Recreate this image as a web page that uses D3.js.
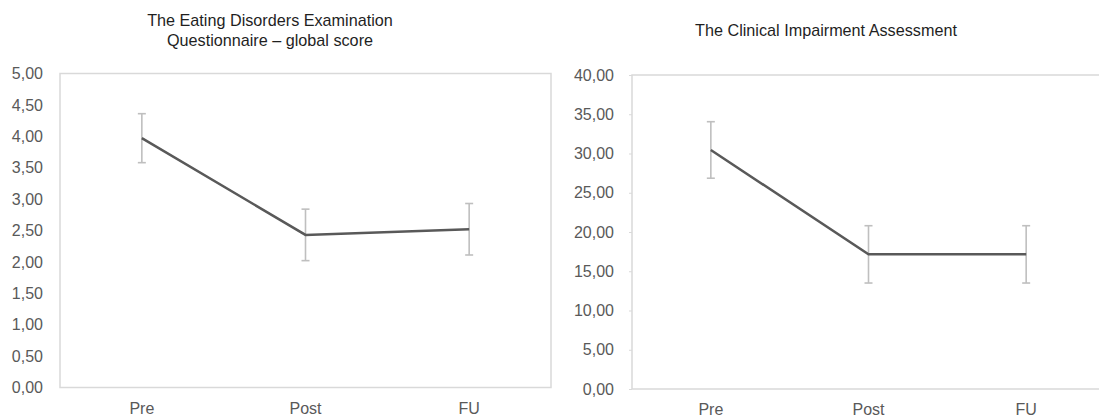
<!DOCTYPE html>
<html>
<head>
<meta charset="utf-8">
<script src="https://cdn.jsdelivr.net/npm/d3@7"></script>
<style>
  html, body { margin: 0; padding: 0; background: #fff; }
  svg { display: block; }
  text { font-family: "Liberation Sans", Arial, sans-serif; }
</style>
</head>
<body>
<svg id="chart" width="1099" height="418"></svg>
<script>
// Measurement occasions
const occasions = ["Pre", "Post", "FU"];

// EDE-Q global score: means and error half-widths
const edeqMeans = [3.97, 2.43, 2.52];
const edeqErrors = [0.39, 0.41, 0.41];
const edeqTicks = [0, 0.5, 1, 1.5, 2, 2.5, 3, 3.5, 4, 4.5, 5];

// Clinical Impairment Assessment: means and error half-widths
const ciaMeans = [30.45, 17.15, 17.15];
const ciaErrors = [3.6, 3.65, 3.65];
const ciaTicks = [0, 5, 10, 15, 20, 25, 30, 35, 40];

const svg = d3.select("#chart");
const fmt = v => d3.format(".2f")(v).replace(".", ",");

function panel(cfg) {
  const g = svg.append("g");
  const x = d3.scalePoint().domain(occasions).range([cfg.left, cfg.right]).padding(0.5);
  const y = d3.scaleLinear().domain([0, cfg.max]).range([cfg.bottom, cfg.top]);

  // plot frame
  g.append("rect")
    .attr("x", cfg.left).attr("y", cfg.top)
    .attr("width", cfg.frameRight - cfg.left).attr("height", cfg.bottom - cfg.top)
    .attr("fill", "none").attr("stroke", "#d9d9d9").attr("stroke-width", 1.5);

  // y axis labels
  const ya = g.append("g").attr("transform", `translate(${cfg.left},0)`)
    .call(d3.axisLeft(y).tickValues(cfg.ticks).tickFormat(fmt)
      .tickSize(cfg.tickMarks ? 3 : 0).tickPadding(cfg.labelPad));
  ya.select(".domain").remove();
  ya.selectAll(".tick line").attr("stroke", "#d9d9d9");
  ya.selectAll(".tick text").attr("fill", "#595959").attr("font-size", 16);

  // x axis labels
  g.selectAll("text.xlab").data(occasions).join("text")
    .attr("class", "xlab")
    .attr("x", d => x(d)).attr("y", cfg.bottom + 26)
    .attr("text-anchor", "middle").attr("fill", "#595959").attr("font-size", 16)
    .text(d => d);

  const pts = occasions.map((d, i) => ({ c: d, m: cfg.means[i], e: cfg.errors[i] }));

  // error bars
  const eb = g.selectAll("g.err").data(pts).join("g").attr("class", "err")
    .attr("stroke", "#bfbfbf").attr("stroke-width", 1.6);
  eb.append("line")
    .attr("x1", d => x(d.c)).attr("x2", d => x(d.c))
    .attr("y1", d => y(d.m - d.e)).attr("y2", d => y(d.m + d.e));
  eb.append("line")
    .attr("x1", d => x(d.c) - 4).attr("x2", d => x(d.c) + 4)
    .attr("y1", d => y(d.m + d.e)).attr("y2", d => y(d.m + d.e));
  eb.append("line")
    .attr("x1", d => x(d.c) - 4).attr("x2", d => x(d.c) + 4)
    .attr("y1", d => y(d.m - d.e)).attr("y2", d => y(d.m - d.e));

  // mean line
  g.append("path").datum(pts)
    .attr("fill", "none").attr("stroke", "#595959").attr("stroke-width", 2.5)
    .attr("d", d3.line().x(d => x(d.c)).y(d => y(d.m)));

  // title
  const t = g.append("text").attr("text-anchor", "middle").attr("fill", "#1f1f1f")
    .attr("font-size", 16.2);
  cfg.title.forEach((line, i) => {
    t.append("tspan").attr("x", cfg.titleX).attr("y", cfg.titleY + i * 20.5).text(line);
  });
}

panel({
  left: 60, right: 551, frameRight: 551, top: 73.5, bottom: 387.5, max: 5,
  ticks: edeqTicks, means: edeqMeans, errors: edeqErrors, tickMarks: false, labelPad: 17,
  title: ["The Eating Disorders Examination", "Questionnaire – global score"],
  titleX: 270, titleY: 25.5
});

panel({
  left: 632, right: 1105, frameRight: 1110, top: 75, bottom: 389, max: 40,
  ticks: ciaTicks, means: ciaMeans, errors: ciaErrors, tickMarks: true, labelPad: 15,
  title: ["The Clinical Impairment Assessment"],
  titleX: 826, titleY: 36
});
</script>
</body>
</html>
